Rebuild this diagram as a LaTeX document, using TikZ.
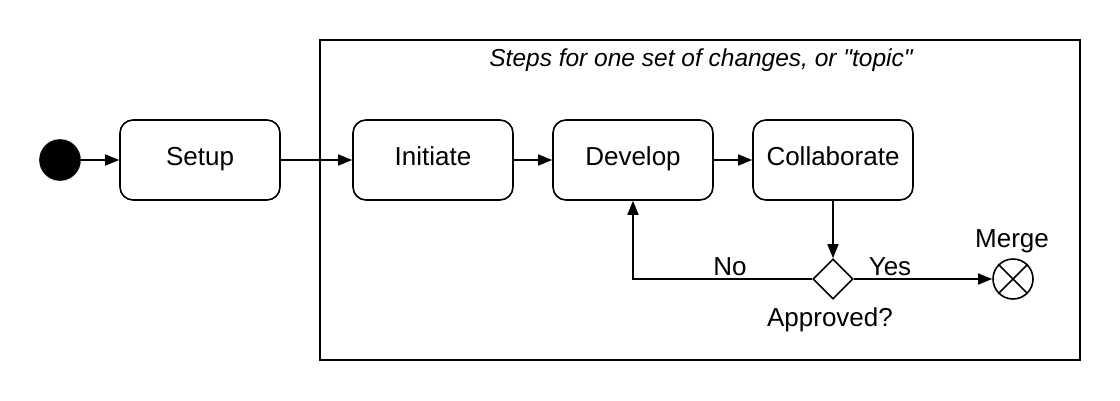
\documentclass[tikz,border=0pt]{standalone}
\usepackage{fontspec}
\setmainfont{Liberation Sans}
\newfontfamily\titlefont{Liberation Sans}[Ligatures=TeXOff]
\usetikzlibrary{arrows.meta,shapes.geometric}
\begin{document}
\begin{tikzpicture}[x=1pt,y=-1pt,
  line width=1.6pt,
  stepbox/.style={draw,rounded corners=13pt,minimum width=160pt,minimum height=80pt,inner sep=0pt,text height=18.6pt,text depth=8pt,font=\fontsize{26}{30}\selectfont},
  lbl/.style={font=\fontsize{26}{30}\selectfont,inner sep=0pt,anchor=base},
  arr/.style={-{Triangle[length=14pt,width=11pt]}}
]
\useasboundingbox (0,0) rectangle (1120,400);
\node[draw,rectangle,minimum width=760pt,minimum height=320pt,inner sep=0pt] (frame) at (700,200) {};
\node[font=\titlefont\itshape\fontsize{24.5}{28}\selectfont,inner sep=0pt,anchor=base] (title) at (701,66) {Steps for one set of changes, or "topic"};
\node[circle,fill=black,draw=black,minimum size=40pt,inner sep=0pt] (start) at (60,160) {};
\node[stepbox] (setup) at (200,160) {Setup};
\node[stepbox] (init) at (433,160) {Initiate};
\node[stepbox] (dev) at (633,160) {Develop};
\node[stepbox] (coll) at (833,160) {Collaborate};
\node[diamond,draw,minimum width=40pt,minimum height=40pt,inner sep=0pt] (dec) at (833,279) {};
\node[circle,draw,minimum size=40pt,inner sep=0pt] (merge) at (1013,279) {};
\draw (merge.45) -- (merge.225) (merge.135) -- (merge.315);
\node[lbl] (no) at (730,275) {No};
\node[lbl] (yes) at (890,275) {Yes};
\node[lbl] (appr) at (830,326) {Approved?};
\node[lbl] (mlbl) at (1012,247) {Merge};
\draw[arr] (start) -- (setup);
\draw[arr] (setup) -- (init);
\draw[arr] (init) -- (dev);
\draw[arr] (dev) -- (coll);
\draw[arr] (coll) -- (dec);
\draw[arr] (dec) -- (merge);
\draw[arr] (dec.west) -| (dev.south);
\end{tikzpicture}
\end{document}
